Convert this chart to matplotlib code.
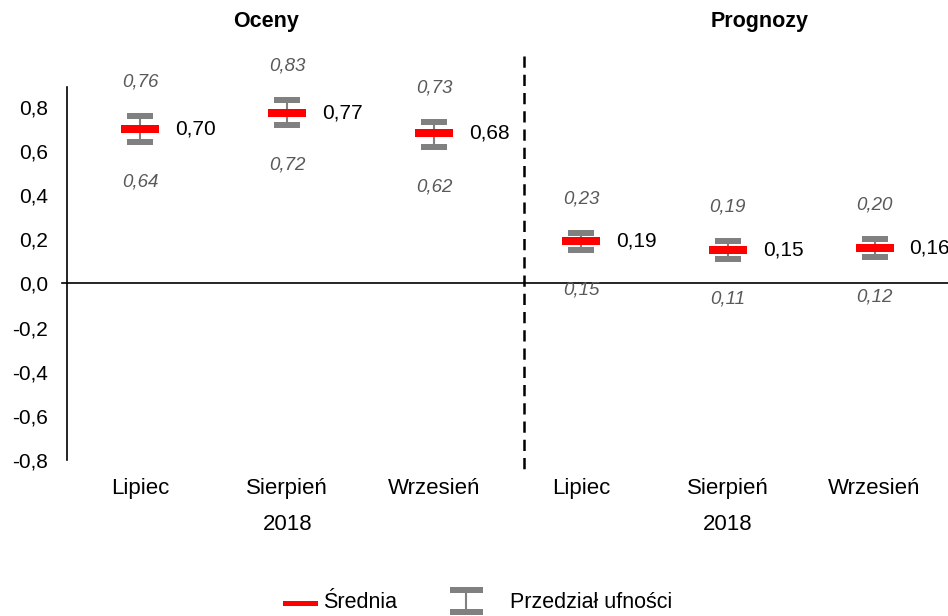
import matplotlib.pyplot as plt
from matplotlib.lines import Line2D

plt.rcParams["font.family"] = ["Liberation Sans", "DejaVu Sans"]

months = ["Lipiec", "Sierpień", "Wrzesień", "Lipiec", "Sierpień", "Wrzesień"]
groups = ["Oceny", "Prognozy"]
year = "2018"
means = [0.70, 0.77, 0.68, 0.19, 0.15, 0.16]
lower = [0.64, 0.72, 0.62, 0.15, 0.11, 0.12]
upper = [0.76, 0.83, 0.73, 0.23, 0.19, 0.20]
y_ticks = [-0.8, -0.6, -0.4, -0.2, 0.0, 0.2, 0.4, 0.6, 0.8]

GRAY = "#808080"
RED = "#ff0000"
PX = 72 / 100  # points per pixel at dpi 100


def fmt(v):
    return f"{v:.2f}".replace(".", ",")


def main() -> None:
    fig = plt.figure(figsize=(9.48, 6.16), dpi=100)
    ax = fig.add_axes([67 / 948, 1 - 460 / 616, 1 - 67 / 948, 373 / 616])

    x = list(range(len(means)))
    yerr = [[m - lo for m, lo in zip(means, lower)],
            [hi - m for m, hi in zip(means, upper)]]

    ax.errorbar(x, means, yerr=yerr, fmt="none", ecolor=GRAY,
                elinewidth=1.5, capsize=13.5 * PX, capthick=6 * PX, zorder=2)
    ax.plot(x, means, linestyle="none", marker="_", color=RED,
            markersize=38 * PX, markeredgewidth=8 * PX, zorder=3)

    for xi, m, lo, hi in zip(x, means, lower, upper):
        ax.annotate(fmt(m), (xi, m), xytext=(35 * PX, 0),
                    textcoords="offset points", ha="left", va="center",
                    fontsize=15, color="black", annotation_clip=False)
        ax.annotate(fmt(hi), (xi, hi), xytext=(0, 34 * PX),
                    textcoords="offset points", ha="center", va="center",
                    fontsize=13.5, style="italic", color="#595959")
        ax.annotate(fmt(lo), (xi, lo), xytext=(0, -40 * PX),
                    textcoords="offset points", ha="center", va="center",
                    fontsize=13.5, style="italic", color="#595959")

    ax.set_xlim(-0.5, 5.5)
    ax.set_ylim(-0.8, 0.89)
    ax.set_yticks(y_ticks)
    ax.set_yticklabels([f"{t:.1f}".replace(".", ",") for t in y_ticks],
                       fontsize=15)
    ax.tick_params(axis="y", length=0, pad=19 * PX)

    ax.set_xticks(x)
    ax.set_xticklabels(months, fontsize=16)
    ax.tick_params(axis="x", length=0, pad=18 * PX)

    for side in ["top", "right", "bottom"]:
        ax.spines[side].set_visible(False)
    ax.spines["left"].set_linewidth(1.2)

    ax.axhline(0, xmin=-0.006, xmax=1, color="black", linewidth=1.2,
               clip_on=False)
    ax.plot([2.61, 2.61], [1.03, -0.84], color="black", linewidth=1.8,
            linestyle=(0, (4.5, 2.8)), clip_on=False)

    # year labels under each group
    for xc in [1, 4]:
        ax.annotate(year, (xc, -0.8), xytext=(0, -65 * PX),
                    textcoords="offset points", ha="center", va="center",
                    fontsize=16, annotation_clip=False)

    fig.text(266 / 948, 1 - 22 / 616, groups[0], ha="center", va="center",
             fontsize=15.5, fontweight="bold")
    fig.text(760 / 948, 1 - 22 / 616, groups[1], ha="center", va="center",
             fontsize=15.5, fontweight="bold")

    # legend, drawn by hand below the axes
    yl = 1 - 603 / 616
    fig.add_artist(Line2D([285 / 948, 315 / 948], [yl, yl], color=RED,
                          linewidth=5 * PX))
    fig.text(323 / 948, yl, "Średnia", ha="left", va="center", fontsize=15.5)
    xl = 466 / 948
    fig.add_artist(Line2D([xl, xl], [1 - 590 / 616, 1 - 612 / 616],
                          color=GRAY, linewidth=1.5))
    for yy in [590, 612]:
        fig.add_artist(Line2D([453 / 948, 480 / 948],
                              [1 - yy / 616, 1 - yy / 616],
                              color=GRAY, linewidth=6 * PX))
    fig.text(510 / 948, yl, "Przedział ufności", ha="left", va="center",
             fontsize=15.5)

    fig.savefig("out.png", dpi=100)


if __name__ == "__main__":
    main()
